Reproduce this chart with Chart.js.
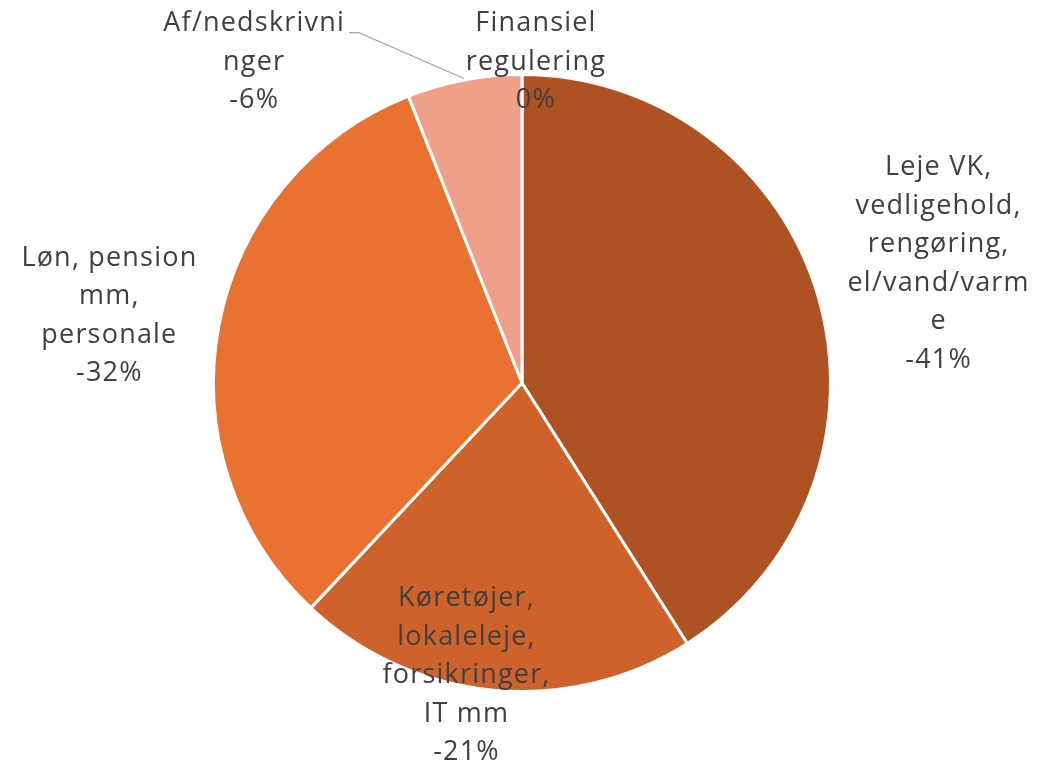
<!DOCTYPE html>
<html><head><meta charset="utf-8">
<script src="https://cdn.jsdelivr.net/npm/chart.js@4/dist/chart.umd.min.js"></script>
<style>html,body{margin:0;padding:0;background:#fff}#wrap{width:1040px;height:763px;position:relative}</style>
</head><body><div id="wrap"><canvas id="c" width="1040" height="763"></canvas></div>
<script>
// ---- data ----
const categories = [
  ["Leje VK,", "vedligehold,", "rengøring,", "el/vand/varm", "e"],
  ["Køretøjer,", "lokaleleje,", "forsikringer,", "IT mm"],
  ["Løn, pension", "mm,", "personale"],
  ["Af/nedskrivni", "nger"],
  ["Finansiel", "regulering"]
];
const shares = [-41, -21, -32, -6, 0];

// ---- styles / layout ----
const sliceColors = ["#AE5223", "#CF622B", "#E97132", "#EEA08A", "#F4C3AE"];
// label block centres, in units of the pie radius, relative to pie centre
const labelLayout = [
  {dx: 1.344, dy: -0.359},
  {dx: -0.179, dy: 0.969},
  {dx: -1.331, dy: -0.192},
  {dx: -0.864, dy: -1.011, leader: [[-0.558, -1.130], [-0.526, -1.130]]},
  {dx: 0.045, dy: -1.011}
];
const FONT = '27px "Open Sans", sans-serif';
const LINE_H = 38.5;

const labelPlugin = {
  id: 'sliceLabels',
  afterDatasetsDraw(chart) {
    const ctx = chart.ctx;
    const meta = chart.getDatasetMeta(0);
    ctx.save();
    ctx.font = FONT;
    ctx.fillStyle = '#404040';
    ctx.textAlign = 'center';
    ctx.textBaseline = 'alphabetic';
    try { ctx.letterSpacing = '1.2px'; } catch (e) {}
    meta.data.forEach((arc, i) => {
      const p = arc.getProps(['x', 'y', 'outerRadius', 'startAngle', 'endAngle'], true);
      const r = p.outerRadius + 1.5;
      const L = labelLayout[i];
      const lines = categories[i].concat([shares[i] + '%']);
      const cx = p.x + L.dx * r;
      const cy = p.y + L.dy * r;
      const y0 = cy - (lines.length - 1) / 2 * LINE_H;
      lines.forEach((t, k) => ctx.fillText(t, cx, y0 + k * LINE_H));
      if (L.leader) {
        const mid = (p.startAngle + p.endAngle) / 2;
        ctx.beginPath();
        ctx.strokeStyle = '#A6A6A6';
        ctx.lineWidth = 1.3;
        ctx.moveTo(p.x + L.leader[0][0] * r, p.y + L.leader[0][1] * r);
        ctx.lineTo(p.x + L.leader[1][0] * r, p.y + L.leader[1][1] * r);
        ctx.lineTo(p.x + Math.cos(mid) * r, p.y + Math.sin(mid) * r);
        ctx.stroke();
      }
    });
    ctx.restore();
  }
};

new Chart(document.getElementById('c'), {
  type: 'pie',
  data: {
    labels: categories,
    datasets: [{
      data: shares,
      backgroundColor: sliceColors,
      borderColor: '#FFFFFF',
      borderWidth: 3
    }]
  },
  options: {
    responsive: false,
    animation: false,
    devicePixelRatio: 1,
    layout: {padding: {left: 212, right: 208, top: 73, bottom: 70}},
    plugins: {legend: {display: false}, tooltip: {enabled: false}}
  },
  plugins: [labelPlugin]
});
</script>
</body></html>
